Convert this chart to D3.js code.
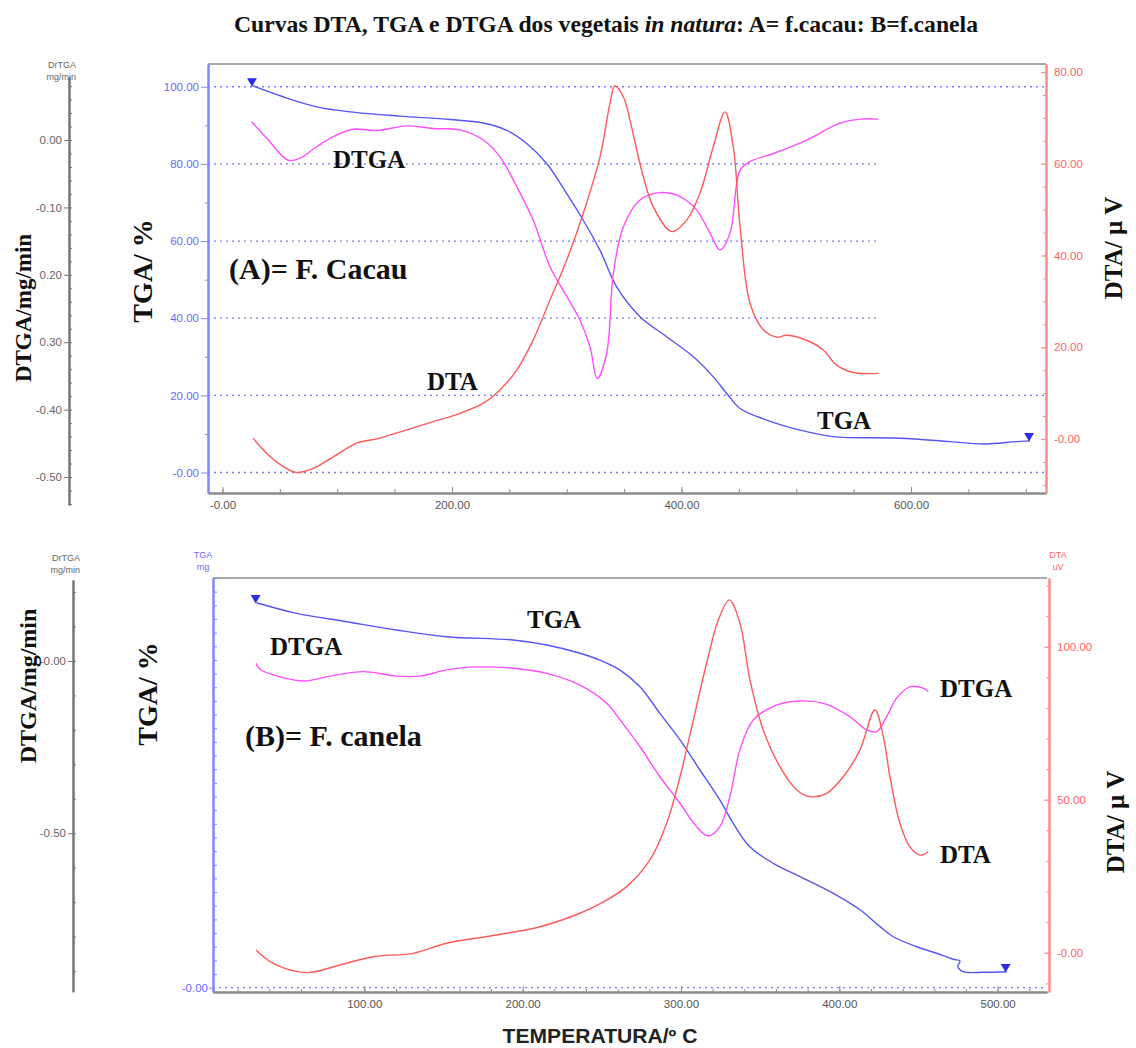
<!DOCTYPE html>
<html>
<head>
<meta charset="utf-8">
<script src="https://cdn.jsdelivr.net/npm/d3@7"></script>
<style>
  body { margin: 0; background: #fff; }
  svg { display: block; }
  .tick text { font-family: "Liberation Sans", Arial, sans-serif; font-size: 11.5px; }
  .lbl { font-family: "Liberation Serif", "Times New Roman", serif; font-weight: bold; fill: #111; }
  .unit { font-family: "Liberation Sans", Arial, sans-serif; font-size: 9px; }
</style>
</head>
<body>
<svg id="chart" width="1136" height="1048"></svg>
<script>
// (A) f. cacau : [temperatura, valor]
const cacauTGA = [[26.6,100.2],[52.7,97.4],[82.1,94.8],[111.1,93.5],[154.7,92.4],[198.3,91.5],[227,90.6],[247.7,88.7],[265.1,85.3],[282.5,80.1],[300,72.3],[314.4,65.4],[329,57.6],[343.5,48.1],[363.8,40.4],[387.1,35.2],[410.3,30.0],[427.7,24.8],[439.4,20.5],[451,16.6],[474.2,13.6],[503.3,11.0],[532,9.3],[590.4,8.9],[634,8.0],[662.7,7.4],[692,8.0],[703.7,8.2]];
const cacauDTGA = [[25.4,0.027],[38.5,0.003],[57.3,-0.030],[67.5,-0.027],[82.1,-0.010],[96.6,0.005],[114,0.016],[134.4,0.014],[160.5,0.021],[183.7,0.017],[207,0.015],[227.3,0.000],[241.8,-0.025],[256.4,-0.069],[270.8,-0.119],[285.4,-0.188],[300,-0.232],[311.5,-0.267],[320.3,-0.307],[326.6,-0.354],[334.8,-0.316],[340.6,-0.198],[349.3,-0.129],[363.8,-0.089],[381.3,-0.078],[398.7,-0.084],[413.2,-0.104],[424.8,-0.138],[433.6,-0.163],[442.3,-0.138],[451,-0.045],[459.7,-0.032],[480,-0.020],[509.1,0.000],[538.1,0.025],[555.6,0.031],[571.5,0.031]];
const cacauDTA = [[26.8,0.2],[38.5,-3.1],[53,-6.0],[64.7,-7.3],[79.1,-6.4],[96.6,-3.9],[117,-0.9],[137.3,0.2],[160.5,2.0],[183.7,3.8],[207,5.6],[227.3,7.8],[241.8,10.7],[256.4,15.0],[270.8,21.6],[285.4,30.3],[300,39.0],[314.4,49.2],[329,61.5],[337.7,73.2],[342,77.0],[349.3,74.6],[355.1,69.5],[361,63.0],[366.7,57.2],[375.4,50.6],[391.5,45.2],[404.5,47.7],[416.1,53.6],[427.7,63.7],[437.9,71.3],[445.1,63.7],[451,46.3],[459.7,29.6],[471.3,23.8],[483,22.2],[491.7,22.6],[512,21.2],[523.6,19.4],[535.2,16.1],[549.7,14.5],[571.5,14.3]];

// (B) f. canela
const canelaTGA = [[32.0,28.19],[57.3,27.41],[88.9,26.80],[120.4,26.19],[152.0,25.70],[194.1,25.46],[215.2,25.09],[236.2,24.49],[248.8,23.99],[261.5,23.26],[274.1,22.04],[286.7,20.09],[299.4,18.14],[312,15.94],[324.6,13.74],[333,12.04],[343.5,10.32],[358.3,9.11],[375.2,8.13],[396.2,6.91],[413.3,5.69],[425.7,4.47],[434.1,3.73],[448.9,3.00],[461.5,2.52],[472,2.08],[476.2,1.95],[474.9,1.54],[478.3,1.17],[491,1.13],[505.7,1.17]];
const canelaDTGA = [[31.6,-0.007],[34.1,-0.024],[46.7,-0.046],[61.5,-0.058],[78.3,-0.044],[99.3,-0.031],[120.4,-0.044],[135.2,-0.044],[152,-0.026],[166.7,-0.018],[194.1,-0.021],[215.2,-0.036],[236.2,-0.070],[253.1,-0.123],[261.5,-0.171],[274.1,-0.249],[286.7,-0.336],[299.4,-0.413],[309.9,-0.481],[317.2,-0.508],[324.6,-0.481],[330.9,-0.394],[337.2,-0.258],[345.7,-0.171],[360.4,-0.128],[375.2,-0.116],[392,-0.126],[406.7,-0.162],[417.3,-0.200],[423.6,-0.205],[429.9,-0.162],[436.2,-0.108],[444.6,-0.075],[453,-0.079],[456.2,-0.089]];
const canelaDTA = [[31.6,0.9],[42.5,-3.5],[63.6,-6.5],[84.6,-4.0],[105.7,-1.3],[130.9,-0.2],[152,3.1],[183.6,5.8],[211,8.5],[236.2,12.9],[249.3,16.1],[265.7,21.6],[280.4,30.3],[291,42.3],[299.4,57.5],[307.8,76.0],[316.2,94.6],[323.6,108.7],[330.5,115.3],[337.3,107.6],[343.6,89.1],[352,72.8],[362.5,60.8],[373.1,53.2],[381.5,51.0],[392,52.1],[402.5,57.5],[413,66.2],[422.5,79.3],[427.8,70.6],[432,57.5],[438.3,42.3],[444.6,34.6],[451,31.9],[456.2,33.0]];

// ticks
const xTicksA = [0, 200, 400, 600];
const tgaTicksA = [0, 20, 40, 60, 80, 100];
const dtaTicksA = [0, 20, 40, 60, 80];
const dtgaTicksA = [0, -0.1, -0.2, -0.3, -0.4, -0.5];
const dtgaLabelsA = ["0.00", "-0.10", "0.20", "0.30", "-0.40", "-0.50"];
const xTicksB = [100, 200, 300, 400, 500];
const dtaTicksB = [0, 50, 100];
const dtgaTicksB = [0, -0.5];

const cTGA = '#5656f5', cDTGA = '#ff4dff', cDTA = '#ff5a5a';
const cAxisBlue = '#8484ff', cAxisRed = '#ff8a8a', cGray = '#8c8c8c';

const svg = d3.select('#chart');

//Scales (A)
const xA = d3.scaleLinear().domain([-12.6, 717.6]).range([208, 1046]);
const tgaA = d3.scaleLinear().domain([-5.31, 105.9]).range([493, 64]);
const dtaA = d3.scaleLinear().domain([-11.77, 81.74]).range([493, 64]);
const dtgaA = d3.scaleLinear().domain([-0.5415, 0.0935]).range([505, 77]);

//Scales (B)
const xB = d3.scaleLinear().domain([4.42, 531.2]).range([213, 1047]);
const tgaB = d3.scaleLinear().domain([-0.315, 30]).range([992, 578]);
const dtaB = d3.scaleLinear().domain([-12.84, 122.45]).range([992, 578]);
const dtgaB = d3.scaleLinear().domain([-0.96, 0.235]).range([991.7, 580]);

const fmt2 = d => (d === 0 ? '-0.00' : d.toFixed(2));

function styleAxis(g, color, textColor, width) {
  g.select('.domain').attr('stroke', color).attr('stroke-width', width || 1.5);
  g.selectAll('.tick line').attr('stroke', color);
  g.selectAll('.tick text').attr('fill', textColor);
}

//Grid lines (A)
svg.append('g').selectAll('line')
  .data(tgaTicksA)
  .enter()
  .append('line')
  .attr('x1', xA.range()[0])
  .attr('x2', d => (d >= 40 && d <= 80 ? xA(570) : xA.range()[1]))
  .attr('y1', d => tgaA(d))
  .attr('y2', d => tgaA(d))
  .attr('stroke', '#7878ff')
  .attr('stroke-width', 1.3)
  .attr('stroke-dasharray', '2,4');

//Grid line (B)
svg.append('line')
  .attr('x1', xB.range()[0]).attr('x2', xB.range()[1])
  .attr('y1', tgaB(0)).attr('y2', tgaB(0))
  .attr('stroke', '#7878ff').attr('stroke-width', 1.3)
  .attr('stroke-dasharray', '2,4');

//Frame top lines
svg.append('line').attr('x1', 208).attr('x2', 1046).attr('y1', 64).attr('y2', 64)
  .attr('stroke', cGray).attr('stroke-width', 1.5);
svg.append('line').attr('x1', 213).attr('x2', 1047).attr('y1', 578).attr('y2', 578)
  .attr('stroke', cGray).attr('stroke-width', 1.5);

// ---------- Axes (A)
svg.append('g').attr('transform', 'translate(0,493)')
  .call(d3.axisBottom(xA).tickValues(d3.range(0, 701, 50)).tickSize(-4).tickSizeOuter(0).tickFormat(''))
  .call(g => styleAxis(g, cGray, '#555', 2));
svg.append('g').attr('transform', 'translate(0,493)')
  .call(d3.axisBottom(xA).tickValues(xTicksA).tickSize(-6).tickSizeOuter(0).tickPadding(8).tickFormat(fmt2))
  .call(g => styleAxis(g, cGray, '#555', 2));

svg.append('g').attr('transform', 'translate(208,0)')
  .call(d3.axisLeft(tgaA).tickValues(d3.range(10, 101, 20)).tickSize(3).tickSizeOuter(0).tickFormat(''))
  .call(g => styleAxis(g, cAxisBlue, cAxisBlue, 2));
svg.append('g').attr('transform', 'translate(208,0)')
  .call(d3.axisLeft(tgaA).tickValues(tgaTicksA).tickSize(7).tickSizeOuter(0).tickPadding(2).tickFormat(fmt2))
  .call(g => styleAxis(g, cAxisBlue, '#6a6aff', 2));

svg.append('g').attr('transform', 'translate(1046,0)')
  .call(d3.axisRight(dtaA).tickValues(d3.range(-10, 81, 5)).tickSize(-3).tickSizeOuter(0).tickFormat(''))
  .call(g => styleAxis(g, cAxisRed, cAxisRed, 2));
svg.append('g').attr('transform', 'translate(1046,0)')
  .call(d3.axisRight(dtaA).tickValues(dtaTicksA).tickSize(-5).tickSizeOuter(0).tickPadding(8).tickFormat(fmt2))
  .call(g => styleAxis(g, cAxisRed, '#ff6464', 2));

svg.append('g').attr('transform', 'translate(69,0)')
  .call(d3.axisLeft(dtgaA).tickValues(d3.range(-0.54, 0.09, 0.02)).tickSize(-3).tickSizeOuter(0).tickFormat(''))
  .call(g => styleAxis(g, '#777', '#777', 2));
svg.append('g').attr('transform', 'translate(69,0)')
  .call(d3.axisLeft(dtgaA).tickValues(dtgaTicksA).tickSize(5).tickSizeOuter(0).tickPadding(2)
    .tickFormat((d, i) => dtgaLabelsA[i]))
  .call(g => styleAxis(g, '#777', '#666', 2));

// ---------- Axes (B)
svg.append('g').attr('transform', 'translate(0,992)')
  .call(d3.axisBottom(xB).tickValues(d3.range(20, 531, 20)).tickSize(-3).tickSizeOuter(0).tickFormat(''))
  .call(g => styleAxis(g, cGray, '#555', 2));
svg.append('g').attr('transform', 'translate(0,992)')
  .call(d3.axisBottom(xB).tickValues(xTicksB).tickSize(-6).tickSizeOuter(0).tickPadding(8).tickFormat(fmt2))
  .call(g => styleAxis(g, cGray, '#555', 2));

svg.append('g').attr('transform', 'translate(213,0)')
  .call(d3.axisLeft(tgaB).tickValues(d3.range(1, 31, 1)).tickSize(-4).tickSizeOuter(0).tickFormat(''))
  .call(g => styleAxis(g, cAxisBlue, cAxisBlue, 2));
svg.append('g').attr('transform', 'translate(213,0)')
  .call(d3.axisLeft(tgaB).tickValues([0]).tickSize(4).tickSizeOuter(0).tickPadding(1).tickFormat(fmt2))
  .call(g => styleAxis(g, cAxisBlue, '#6a6aff', 2));

svg.append('g').attr('transform', 'translate(1049,0)')
  .call(d3.axisRight(dtaB).tickValues(d3.range(-10, 121, 10)).tickSize(-3).tickSizeOuter(0).tickFormat(''))
  .call(g => styleAxis(g, cAxisRed, cAxisRed, 2));
svg.append('g').attr('transform', 'translate(1049,0)')
  .call(d3.axisRight(dtaB).tickValues(dtaTicksB).tickSize(-5).tickSizeOuter(0).tickPadding(8).tickFormat(fmt2))
  .call(g => styleAxis(g, cAxisRed, '#ff6464', 2));

svg.append('g').attr('transform', 'translate(73,0)')
  .call(d3.axisLeft(dtgaB).tickValues(d3.range(-0.9, 0.21, 0.1)).tickSize(-3).tickSizeOuter(0).tickFormat(''))
  .call(g => styleAxis(g, '#777', '#777', 2));
svg.append('g').attr('transform', 'translate(73,0)')
  .call(d3.axisLeft(dtgaB).tickValues(dtgaTicksB).tickSize(5).tickSizeOuter(0).tickPadding(2).tickFormat(fmt2))
  .call(g => styleAxis(g, '#777', '#666', 2));

// ---------- Curves
function drawCurve(data, xs, ys, color) {
  svg.append('path')
    .datum(data)
    .attr('fill', 'none')
    .attr('stroke', color)
    .attr('stroke-width', 1.4)
    .attr('d', d3.line().x(d => xs(d[0])).y(d => ys(d[1])).curve(d3.curveCatmullRom.alpha(0.5)));
}
drawCurve(cacauTGA, xA, tgaA, cTGA);
drawCurve(cacauDTGA, xA, dtgaA, cDTGA);
drawCurve(cacauDTA, xA, dtaA, cDTA);
drawCurve(canelaTGA, xB, tgaB, cTGA);
drawCurve(canelaDTGA, xB, dtgaB, cDTGA);
drawCurve(canelaDTA, xB, dtaB, cDTA);

//TGA markers
function marker(p, xs, ys) {
  svg.append('path')
    .attr('d', d3.symbol().type(d3.symbolTriangle).size(42))
    .attr('transform', `translate(${xs(p[0]) - 1},${ys(p[1]) - 5}) rotate(180)`)
    .attr('fill', '#2b2bf0');
}
marker(cacauTGA[0], xA, tgaA);
marker(cacauTGA[cacauTGA.length - 1], xA, tgaA);
marker(canelaTGA[0], xB, tgaB);
marker(canelaTGA[canelaTGA.length - 1], xB, tgaB);

// ---------- Text
function label(txt, x, y, size) {
  return svg.append('text').attr('class', 'lbl').attr('x', x).attr('y', y)
    .attr('font-size', size).text(txt);
}
label('DTGA', 333, 168, 25);
label('(A)= F. Cacau', 229, 279, 30);
label('DTA', 427, 390, 25);
label('TGA', 817, 429, 25);
label('TGA', 527, 628, 25);
label('DTGA', 270, 655, 25);
label('(B)= F. canela', 245, 746, 30);
label('DTGA', 940, 697, 25);
label('DTA', 940, 863, 25);

function vlabel(txt, x, y, size) {
  svg.append('text').attr('class', 'lbl')
    .attr('transform', `translate(${x},${y}) rotate(-90)`)
    .attr('text-anchor', 'middle').attr('font-size', size).text(txt);
}
vlabel('DTGA/mg/min', 31, 308, 23);
vlabel('TGA/ %', 152, 271, 28);
vlabel('DTA/ µ V', 1122, 248, 25);
vlabel('DTGA/mg/min', 36, 686, 24);
vlabel('TGA/ %', 157, 694, 28);
vlabel('DTA/ µ V', 1124, 822, 25);

function unit(lines, x, y, color, anchor) {
  lines.forEach((t, i) => {
    svg.append('text').attr('class', 'unit').attr('x', x).attr('y', y + i * 12)
      .attr('text-anchor', anchor).attr('fill', color).text(t);
  });
}
unit(['DrTGA', 'mg/min'], 76, 68, '#666', 'end');
unit(['DrTGA', 'mg/min'], 80, 561, '#666', 'end');
unit(['TGA', 'mg'], 203, 558, '#6a6aff', 'middle');
unit(['DTA', 'uV'], 1058, 558, '#ff6464', 'middle');

function fitWidth(sel, cx, w) {
  const bb = sel.node().getBBox();
  const s = w / bb.width;
  sel.attr('transform', `translate(${cx},0) scale(${s},1) translate(${-cx},0)`);
}

//Title
const title = svg.append('text').attr('class', 'lbl')
  .attr('x', 606).attr('y', 32).attr('text-anchor', 'middle').attr('font-size', 23);
title.append('tspan').text('Curvas DTA, TGA e DTGA dos vegetais ');
title.append('tspan').attr('font-style', 'italic').text('in natura');
title.append('tspan').text(': A= f.cacau: B=f.canela');
fitWidth(title, 606, 745);

const xTitle = svg.append('text')
  .attr('x', 600).attr('y', 1043).attr('text-anchor', 'middle')
  .attr('font-family', '"Liberation Sans Narrow", "Liberation Sans", Arial, sans-serif')
  .attr('font-weight', 'bold').attr('font-size', 20).attr('fill', '#222')
  .text('TEMPERATURA/º C');
fitWidth(xTitle, 600, 195);
</script>
</body>
</html>
